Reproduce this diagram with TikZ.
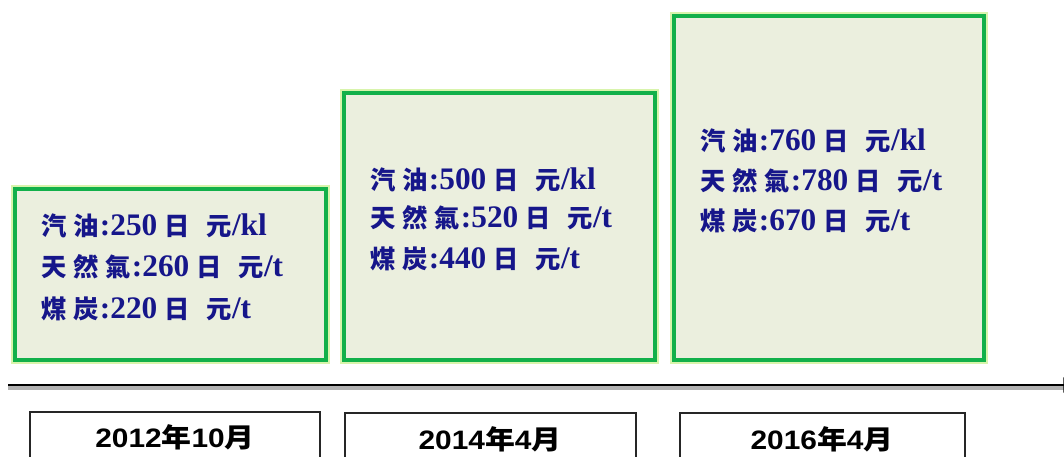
\documentclass[tikz,border=0pt]{standalone}
\usepackage{fontspec}
\usetikzlibrary{arrows.meta}
\setmainfont{Liberation Serif}
\newfontfamily\cjkf{Noto Sans CJK TC}
\newfontfamily\datef{Liberation Sans}
\newcommand{\cj}[1]{{\cjkf\fontsize{19}{23}\selectfont #1}}
\newcommand{\gp}{\hspace{5pt}}
\definecolor{txtblue}{HTML}{16168A}
\definecolor{boxfill}{HTML}{EBEFDE}
\definecolor{boxline}{HTML}{12B04A}
\definecolor{glow}{HTML}{D8F4AC}
\begin{document}
\begin{tikzpicture}[x=0.75pt,y=-0.75pt,
  pricebox/.style={draw=boxline, line width=2.6pt, fill=boxfill, inner sep=0pt,
     preaction={draw=glow, line width=6pt}},
  pricetxt/.style={anchor=west, inner sep=0pt, text=txtblue, font=\fontsize{23.5}{27}\selectfont\bfseries},
  datebox/.style={draw=black!85, line width=1pt, fill=white, inner sep=0pt},
  datetxt/.style={inner sep=0pt, font=\datef\fontsize{20}{22}\selectfont\bfseries}]
\useasboundingbox (0,0) rectangle (1064,457);
% price boxes
\node[pricebox, minimum width=311*0.75pt, minimum height=171*0.75pt] (b1) at (170.5,274.5) {};
\node[pricebox, minimum width=311*0.75pt, minimum height=267*0.75pt] (b2) at (499.5,226.5) {};
\node[pricebox, minimum width=310*0.75pt, minimum height=344*0.75pt] (b3) at (829,188) {};
% texts box 1
\node[pricetxt] (t1a) at (41,226) {\cj{汽}\gp\cj{油}\hspace{1pt}:250\hspace{5pt}\cj{日}\hspace{13pt}\cj{元}/kl};
\node[pricetxt] (t1b) at (41,267) {\cj{天}\gp\cj{然}\gp\cj{氣}\hspace{1pt}:260\hspace{5pt}\cj{日}\hspace{13pt}\cj{元}/t};
\node[pricetxt] (t1c) at (41,308.5) {\cj{煤}\gp\cj{炭}\hspace{1pt}:220\hspace{5pt}\cj{日}\hspace{13pt}\cj{元}/t};
% texts box 2
\node[pricetxt] (t2a) at (370,180) {\cj{汽}\gp\cj{油}\hspace{1pt}:500\hspace{5pt}\cj{日}\hspace{13pt}\cj{元}/kl};
\node[pricetxt] (t2b) at (370,218) {\cj{天}\gp\cj{然}\gp\cj{氣}\hspace{1pt}:520\hspace{5pt}\cj{日}\hspace{13pt}\cj{元}/t};
\node[pricetxt] (t2c) at (370,259) {\cj{煤}\gp\cj{炭}\hspace{1pt}:440\hspace{5pt}\cj{日}\hspace{13pt}\cj{元}/t};
% texts box 3
\node[pricetxt] (t3a) at (700,141) {\cj{汽}\gp\cj{油}\hspace{1pt}:760\hspace{5pt}\cj{日}\hspace{13pt}\cj{元}/kl};
\node[pricetxt] (t3b) at (700,181) {\cj{天}\gp\cj{然}\gp\cj{氣}\hspace{1pt}:780\hspace{5pt}\cj{日}\hspace{13pt}\cj{元}/t};
\node[pricetxt] (t3c) at (700,221) {\cj{煤}\gp\cj{炭}\hspace{1pt}:670\hspace{5pt}\cj{日}\hspace{13pt}\cj{元}/t};
% timeline
\coordinate (ls) at (8,385);
\coordinate (le) at (1082,385);
\draw[line width=2.4pt, black!30] ([yshift=-2.2pt]ls) -- ([yshift=-2.2pt]le);
\draw[line width=2.2pt, -{Latex[length=14pt,width=12pt]}] (ls) -- (le);
% date boxes
\node[datebox, minimum width=290*0.75pt, minimum height=60*0.75pt] (d1) at (175,442) {};
\node[datebox, minimum width=291*0.75pt, minimum height=60*0.75pt] (d2) at (490.5,443) {};
\node[datebox, minimum width=285*0.75pt, minimum height=60*0.75pt] (d3) at (822.5,443) {};
\node[datetxt] (dt1) at (175,437) {\scalebox{1.12}[1]{2012{\cjkf\bfseries 年}10{\cjkf\bfseries 月}}};
\node[datetxt] (dt2) at (490,439) {\scalebox{1.12}[1]{2014{\cjkf\bfseries 年}4{\cjkf\bfseries 月}}};
\node[datetxt] (dt3) at (822,439) {\scalebox{1.12}[1]{2016{\cjkf\bfseries 年}4{\cjkf\bfseries 月}}};
\end{tikzpicture}
\end{document}
